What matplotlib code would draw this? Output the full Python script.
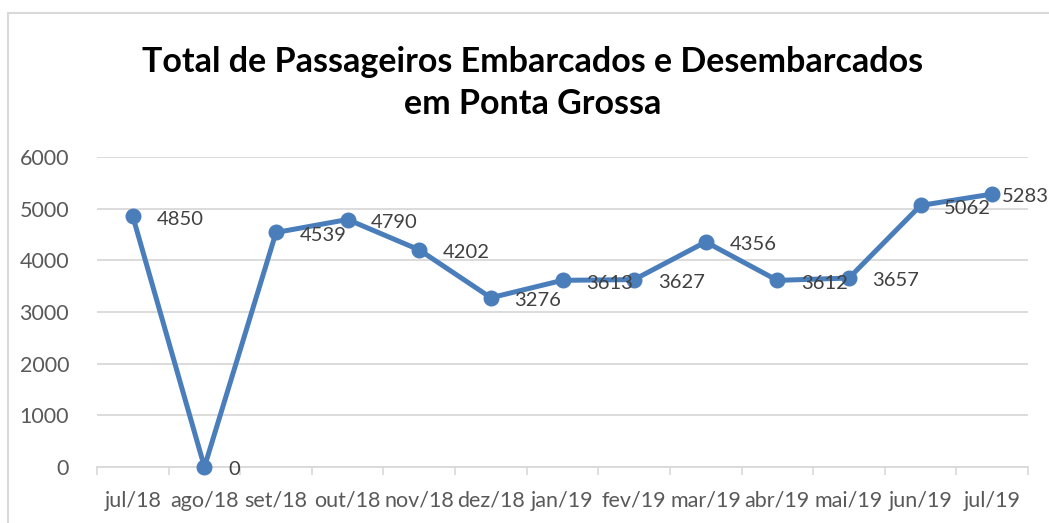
import numpy as np
import matplotlib
matplotlib.use("Agg")
import matplotlib.pyplot as plt
from matplotlib.patches import Rectangle

months = ['jul/18', 'ago/18', 'set/18', 'out/18', 'nov/18', 'dez/18', 'jan/19',
          'fev/19', 'mar/19', 'abr/19', 'mai/19', 'jun/19', 'jul/19']
passengers = [4850, 0, 4539, 4790, 4202, 3276, 3613, 3627, 4356, 3612, 3657, 5062, 5283]

plt.rcParams['font.family'] = ['Lato', 'DejaVu Sans']

blue = '#4A7EBB'
grid = '#D9D9D9'

fig = plt.figure(figsize=(10.49, 5.23), dpi=100)
fig.patches.append(Rectangle((8 / 1049, -0.05), 1.1, 1 - 13 / 523 + 0.05,
                             transform=fig.transFigure, fill=False,
                             edgecolor='#D9D9D9', linewidth=1.5))

ax = fig.add_axes([97 / 1049, 1 - 467 / 523, (1028 - 97) / 1049, 310 / 523])
x = np.arange(len(months))
ax.plot(x, passengers, color=blue, linewidth=3.6, marker='o', markersize=10.5,
        solid_joinstyle='round', zorder=3, clip_on=False)

for i, v in enumerate(passengers):
    dx = 7 if i == len(passengers) - 1 else 17
    ax.annotate(str(v), (x[i], v), xytext=(dx, -2), textcoords='offset points',
                ha='left', va='center', fontsize=14.5, color='#404040',
                annotation_clip=False, zorder=4)

ax.set_xlim(-0.5, len(months) - 0.5)
ax.set_ylim(0, 6000)
ax.set_yticks(np.arange(0, 6001, 1000))
ax.yaxis.grid(True, color=grid, linewidth=1.3)
ax.set_axisbelow(True)
ax.set_xticks(x)
ax.set_xticklabels(months)
ax.set_xticks(np.arange(-0.5, len(months), 1), minor=True)
ax.tick_params(axis='x', which='major', length=0, pad=17, labelsize=15.5, colors='#595959')
ax.tick_params(axis='x', which='minor', length=6, width=1.2, color=grid)
ax.tick_params(axis='y', length=0, pad=20, labelsize=15.5, colors='#595959')
for s in ['top', 'right', 'left']:
    ax.spines[s].set_visible(False)
ax.spines['bottom'].set_color(grid)
ax.spines['bottom'].set_linewidth(1.3)

fig.text(533 / 1049, 1 - 83 / 523,
         'Total de Passageiros Embarcados e Desembarcados\nem Ponta Grossa',
         ha='center', va='center', fontsize=24.5, fontweight='bold',
         linespacing=1.36, color='black')

fig.savefig('out.png', dpi=100, facecolor='white')
